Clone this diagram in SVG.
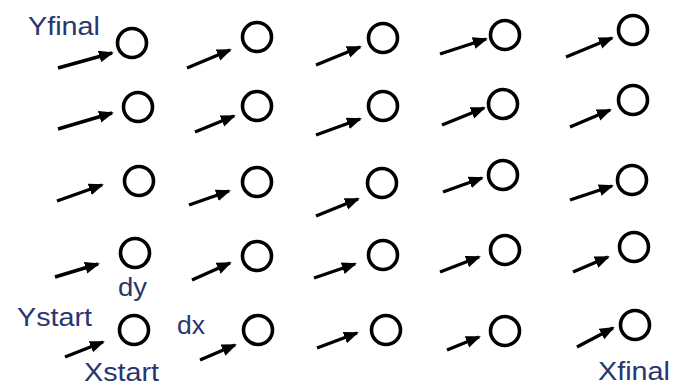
<svg xmlns="http://www.w3.org/2000/svg" width="685" height="387" viewBox="0 0 685 387">
<style>
.n{fill:none;stroke:#000;stroke-width:3.6}
.c line{stroke:#000;stroke-width:3.4;marker-end:url(#ah)}
.t{font-family:"Liberation Sans",Arial,sans-serif;font-size:26px;fill:#28366f}
</style>
<defs>
<marker id="ah" markerUnits="userSpaceOnUse" markerWidth="18" markerHeight="14" refX="13" refY="6" orient="auto">
<path d="M0,0 L15,6 L0,12 z" fill="#000"/>
</marker>
</defs>
<rect width="685" height="387" fill="#fff"/>
<g class="c" id="connectors">
<line x1="58" y1="68" x2="112" y2="53"/>
<line x1="187" y1="68" x2="230" y2="50"/>
<line x1="316" y1="65" x2="360" y2="47"/>
<line x1="440" y1="54" x2="486" y2="39"/>
<line x1="566" y1="57" x2="612" y2="38"/>
<line x1="58" y1="129" x2="112" y2="113"/>
<line x1="195" y1="132" x2="234" y2="116"/>
<line x1="316" y1="135" x2="360" y2="119"/>
<line x1="442" y1="125" x2="484" y2="108"/>
<line x1="570" y1="127" x2="610" y2="110"/>
<line x1="57" y1="201" x2="102" y2="185"/>
<line x1="189" y1="205" x2="229" y2="191"/>
<line x1="316" y1="216" x2="358" y2="199"/>
<line x1="443" y1="192" x2="482" y2="178"/>
<line x1="570" y1="200" x2="612" y2="186"/>
<line x1="55" y1="277" x2="98" y2="264"/>
<line x1="192" y1="280" x2="230" y2="263"/>
<line x1="314" y1="278" x2="355" y2="264"/>
<line x1="440" y1="272" x2="479" y2="257"/>
<line x1="573" y1="272" x2="608" y2="257"/>
<line x1="65" y1="357" x2="103" y2="342"/>
<line x1="200" y1="360" x2="235" y2="345"/>
<line x1="317" y1="348" x2="357" y2="333"/>
<line x1="447" y1="350" x2="479" y2="337"/>
<line x1="577" y1="347" x2="613" y2="328"/>
</g>
<g id="n11"><circle class="n" cx="132" cy="43" r="14.5"/></g>
<g id="n12"><circle class="n" cx="257" cy="37" r="14.5"/></g>
<g id="n13"><circle class="n" cx="383" cy="38" r="14.5"/></g>
<g id="n14"><circle class="n" cx="505" cy="35" r="14.5"/></g>
<g id="n15"><circle class="n" cx="633" cy="30" r="14.5"/></g>
<g id="n21"><circle class="n" cx="138" cy="107" r="14.5"/></g>
<g id="n22"><circle class="n" cx="257" cy="106" r="14.5"/></g>
<g id="n23"><circle class="n" cx="383" cy="106" r="14.5"/></g>
<g id="n24"><circle class="n" cx="503" cy="104" r="14.5"/></g>
<g id="n25"><circle class="n" cx="633" cy="100" r="14.5"/></g>
<g id="n31"><circle class="n" cx="139" cy="181" r="14.5"/></g>
<g id="n32"><circle class="n" cx="257" cy="182" r="14.5"/></g>
<g id="n33"><circle class="n" cx="382" cy="183" r="14.5"/></g>
<g id="n34"><circle class="n" cx="503" cy="175" r="14.5"/></g>
<g id="n35"><circle class="n" cx="632" cy="180" r="14.5"/></g>
<g id="n41"><circle class="n" cx="135" cy="253" r="14.5"/></g>
<g id="n42"><circle class="n" cx="257" cy="256" r="14.5"/></g>
<g id="n43"><circle class="n" cx="383" cy="255" r="14.5"/></g>
<g id="n44"><circle class="n" cx="505" cy="250" r="14.5"/></g>
<g id="n45"><circle class="n" cx="634" cy="247" r="14.5"/></g>
<g id="n51"><circle class="n" cx="134" cy="330" r="14.5"/></g>
<g id="n52"><circle class="n" cx="258" cy="330" r="14.5"/></g>
<g id="n53"><circle class="n" cx="386" cy="330" r="14.5"/></g>
<g id="n54"><circle class="n" cx="505" cy="331" r="14.5"/></g>
<g id="n55"><circle class="n" cx="635" cy="325" r="14.5"/></g>
<g id="labels">
<text class="t" x="28" y="35" textLength="72" lengthAdjust="spacingAndGlyphs">Yfinal</text>
<text class="t" x="17" y="326" textLength="75" lengthAdjust="spacingAndGlyphs">Ystart</text>
<text class="t" x="84" y="381" textLength="75" lengthAdjust="spacingAndGlyphs">Xstart</text>
<text class="t" x="598" y="380" textLength="72" lengthAdjust="spacingAndGlyphs">Xfinal</text>
<text class="t" x="118" y="296" textLength="29" lengthAdjust="spacingAndGlyphs">dy</text>
<text class="t" x="177" y="334" textLength="28" lengthAdjust="spacingAndGlyphs">dx</text>
</g>
</svg>
